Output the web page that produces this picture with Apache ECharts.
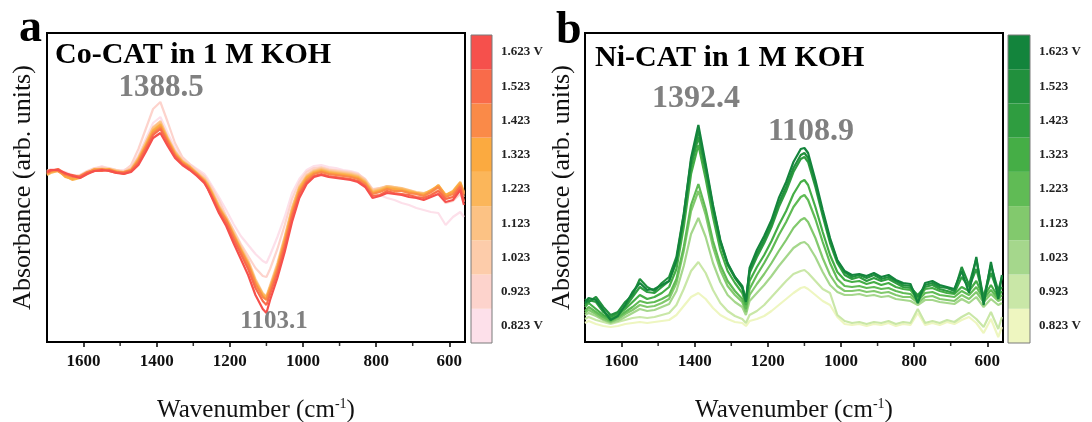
<!DOCTYPE html>
<html><head><meta charset="utf-8">
<script src="https://cdn.jsdelivr.net/npm/echarts@6/dist/echarts.min.js"></script>
<style>html,body{margin:0;padding:0;background:#fff}#c{width:1092px;height:422px}</style>
</head><body><div id="c"></div>
<script>
// ---- DATA ----
const wavenumbers = [1700,1690,1670,1650,1630,1610,1590,1570,1550,1530,1510,1490,1470,1450,1430,1410,1390,1370,1350,1330,1310,1290,1270,1260,1250,1230,1210,1190,1170,1150,1130,1110,1100,1090,1070,1050,1030,1010,990,970,950,930,910,890,870,850,830,810,790,770,750,730,710,690,670,650,630,610,590,570,560];
const voltageLabels = ['0.823 V','0.923','1.023','1.123','1.223','1.323','1.423','1.523','1.623 V'];
const majorTicks = [600,800,1000,1200,1400,1600];
const minorTicks = [700,900,1100,1300,1500];
const titleA = 'Co-CAT in 1 M KOH';
const titleB = 'Ni-CAT in 1 M KOH';
const peakLabelsA = ['1388.5','1103.1'];
const peakLabelsB = ['1392.4','1108.9'];

// Co-CAT (panel a), absorbance in arbitrary units, 0.823 V ... 1.623 V
const co0823 = [186,188,187,185,182,181,185,188,191,188,186,187,190,202,218,234,240,224,209,199,193,188,183,178,172,160,147,133,121,112,103,96,94,102,120,140,164,178,187,191,192,190,189,187,186,184,177,165,162,159,157,154,152,149,147,145,144,132,140,145,140];
const co0923 = [185,187,188,184,181,182,186,189,190,189,187,186,192,208,228,248,255,235,214,200,193,187,181,176,170,157,141,127,113,101,89,81,80,88,108,132,158,175,185,189,190,188,187,186,185,183,178,168,169,170,168,166,164,162,160,161,163,154,156,163,155];
const co1023 = [184,186,187,183,179,181,185,188,189,188,187,185,189,200,215,230,236,220,206,197,191,185,179,174,167,152,140,126,111,97,78,64,61,72,94,121,150,171,182,187,189,187,186,185,184,182,177,167,169,171,170,168,166,164,162,164,167,158,160,168,160];
const co1123 = [183,185,186,182,178,180,184,187,188,188,186,185,188,199,214,229,235,219,205,196,191,184,178,173,166,151,139,124,109,95,76,62,59,70,92,119,148,170,181,186,188,186,185,184,183,181,176,166,168,171,170,169,167,165,164,166,170,161,164,173,163];
const co1223 = [182,184,186,181,177,179,183,187,188,187,186,184,187,198,212,227,233,218,204,195,190,184,177,172,165,150,138,123,108,94,76,63,60,70,91,118,147,169,180,185,187,185,184,183,182,180,175,165,167,170,169,168,166,164,163,167,171,162,166,175,165];
const co1323 = [183,185,187,180,178,180,184,188,187,188,185,183,186,197,211,226,232,217,203,195,190,183,176,171,164,149,137,122,107,93,74,61,58,68,89,116,145,167,179,184,186,184,183,182,181,179,174,164,166,169,168,167,165,164,162,166,172,162,165,174,164];
const co1423 = [186,187,186,182,180,181,185,187,188,186,184,185,187,196,210,224,230,216,202,194,189,183,176,170,163,148,137,121,106,92,73,60,57,67,88,114,143,165,177,183,185,183,182,181,180,178,173,163,165,168,166,166,164,163,161,165,170,160,163,172,162];
const co1523 = [184,186,188,183,182,180,184,186,186,187,185,184,186,194,208,222,228,214,201,193,188,182,175,168,161,146,134,118,103,88,69,56,52,63,84,110,140,163,175,181,183,181,180,179,178,176,171,161,162,166,164,163,162,160,159,162,166,158,160,170,156];
const co1623 = [185,187,187,184,181,179,183,186,187,186,184,183,185,192,205,219,224,211,199,192,187,181,174,168,160,144,131,114,98,82,62,48,44,57,79,105,135,159,173,180,182,180,179,178,177,175,170,159,161,164,163,162,160,159,157,160,163,155,157,167,152];

// Ni-CAT (panel b)
const ni0823 = [34,36,33,31,30,31,33,34,35,34,35,36,37,42,51,60,64,58,49,42,38,35,34,31,36,38,41,46,52,58,64,69,70,68,62,56,52,40,33,32,33,31,33,32,34,31,33,32,44,32,34,32,35,33,37,40,34,24,38,20,30];
const ni0923 = [38,40,37,35,33,35,37,39,40,39,40,42,44,52,68,86,95,84,67,54,46,41,38,34,42,46,52,60,68,76,83,86,87,84,76,68,64,42,36,34,35,33,35,34,36,33,35,34,48,34,36,34,37,35,40,44,38,30,45,28,40];
const ni1023 = [42,44,41,37,34,36,40,44,48,46,47,50,53,66,91,123,139,120,94,75,62,55,50,42,56,64,72,81,91,100,109,114,115,112,100,85,72,65,62,62,63,61,62,60,61,58,57,56,52,57,57,55,54,53,58,54,60,50,58,52,54];
const ni1123 = [44,47,43,38,35,38,43,47,52,50,51,54,58,74,106,146,166,142,110,87,71,62,55,45,62,73,83,94,106,117,129,137,139,135,119,99,82,71,66,66,67,65,66,64,65,62,60,60,54,60,61,58,57,56,62,58,65,55,63,56,58];
const ni1223 = [46,50,45,40,36,40,45,50,56,54,55,58,62,78,110,152,173,148,116,92,76,66,58,48,68,82,94,107,122,135,150,160,162,157,138,115,94,78,71,70,71,69,70,68,69,66,64,63,56,64,65,62,61,60,66,62,70,58,67,58,62];
const ni1323 = [50,54,48,42,38,42,48,55,62,58,60,64,70,88,130,183,212,178,140,107,86,74,64,52,76,90,102,116,132,146,163,175,177,172,150,125,102,85,77,75,76,73,75,72,74,70,68,67,58,68,69,66,64,63,70,66,76,60,72,60,66];
const ni1423 = [52,57,55,45,40,44,50,60,70,65,64,70,76,95,138,190,220,186,147,114,92,79,69,56,84,100,114,130,150,166,185,198,200,195,170,141,114,94,82,78,80,76,79,76,78,74,70,69,62,70,72,68,66,64,80,70,88,60,84,64,70];
const ni1523 = [58,55,60,50,42,45,55,62,78,70,66,74,80,100,143,196,226,190,150,116,93,80,71,57,86,103,117,133,154,170,189,202,204,199,173,144,117,96,85,80,82,79,82,78,80,76,72,71,60,72,74,70,69,66,90,72,98,58,92,66,80];
const ni1623 = [54,59,57,47,37,41,52,65,74,67,68,72,76,97,142,199,232,193,152,117,94,80,70,55,89,107,121,137,159,175,195,208,209,204,177,147,119,97,86,82,83,81,84,80,82,77,74,73,54,74,76,72,70,68,86,64,100,52,95,58,82];

const coData = [co0823,co0923,co1023,co1123,co1223,co1323,co1423,co1523,co1623];
const niData = [ni0823,ni0923,ni1023,ni1123,ni1223,ni1323,ni1423,ni1523,ni1623];
const coColors = ['#fde0ea','#fdd3cc','#fdccaa','#fcc284','#fbb65a','#fbaa40','#fa8a48','#f96b4a','#f6504c'];
const niColors = ['#eef6c0','#c9e7a7','#a5d78c','#82c96d','#60bb55','#45ae46','#2f9d40','#21903d','#13843c'];

// ---- CHART ----
const FONT = '"Liberation Serif","Times New Roman","DejaVu Serif",serif';
const Y_MIN = 15, Y_MAX = 324;
const chart = echarts.init(document.getElementById('c'), null, {renderer:'canvas'});

const mainGrids = [
  {left:47, top:33, width:418, height:309},
  {left:585, top:33, width:418, height:309}
];
const barGrids = [
  {left:471, top:35, width:21, height:308},
  {left:1008, top:35, width:22, height:308}
];

const grids = [];
mainGrids.forEach(g => grids.push(Object.assign({show:true, borderColor:'#000', borderWidth:2, containLabel:false, outerBoundsMode:'none'}, g)));
barGrids.forEach(g => grids.push(Object.assign({show:false, containLabel:false, outerBoundsMode:'none'}, g)));

const xAxes = [], yAxes = [];
[0,1].forEach(gi => {
  xAxes.push({
    type:'value', gridIndex:gi, min:557, max:1700, inverse:true, position:'bottom',
    splitLine:{show:false},
    axisLine:{show:true, onZero:false, lineStyle:{color:'#000', width:2}},
    axisTick:{show:true, customValues:majorTicks, length:5, lineStyle:{color:'#000', width:1.5}},
    axisLabel:{show:true, customValues:majorTicks, margin:11, fontFamily:FONT, fontWeight:'bold', fontSize:17, color:'#111',
      formatter: v => String(v)},
    name:'Wavenumber (cm{s|-1})', nameLocation:'middle', nameGap:55,
    nameTextStyle:{fontFamily:FONT, fontSize:25, color:'#111',
      rich:{s:{fontFamily:FONT, fontSize:14, color:'#111', verticalAlign:'top', lineHeight:26}}}
  });
  yAxes.push({
    type:'value', gridIndex:gi, min:Y_MIN, max:Y_MAX,
    splitLine:{show:false}, axisTick:{show:false}, axisLabel:{show:false},
    axisLine:{show:true, lineStyle:{color:'#000', width:2}},
    name:'Absorbance (arb. units)', nameLocation:'middle', nameGap:gi===0?11:10, nameRotate:90,
    nameTextStyle:{fontFamily:FONT, fontSize:26, color:'#111'}
  });
});
[2,3].forEach(gi => {
  xAxes.push({type:'value', gridIndex:gi, min:0, max:1, show:false});
  yAxes.push({
    type:'category', gridIndex:gi, data:voltageLabels, position:'right',
    axisLine:{show:false},
    axisTick:{show:true, alignWithLabel:true, length:4, lineStyle:{color:'#999', width:1}},
    axisLabel:{margin:9, fontFamily:FONT, fontWeight:'bold', fontSize:13, color:'#222'},
    splitLine:{show:false}
  });
});

const series = [];
coData.forEach((arr, k) => series.push({
  type:'line', xAxisIndex:0, yAxisIndex:0, name:voltageLabels[k], showSymbol:false, symbol:'none',
  lineStyle:{color:coColors[k], width:2.2}, itemStyle:{color:coColors[k]}, z:2+k,
  data: wavenumbers.map((w,i) => [w, arr[i]])
}));
niData.forEach((arr, k) => series.push({
  type:'line', xAxisIndex:1, yAxisIndex:1, name:'ni'+voltageLabels[k], showSymbol:false, symbol:'none',
  lineStyle:{color:niColors[k], width:2.2}, itemStyle:{color:niColors[k]}, z:2+k,
  data: wavenumbers.map((w,i) => [w, arr[i]])
}));
// minor ticks, placed on the bottom edge through the axis scale
[0,1].forEach(gi => series.push({
  type:'scatter', xAxisIndex:gi, yAxisIndex:gi, silent:true, clip:false, z:20,
  symbol:'rect', symbolSize:[1.5,4], symbolOffset:[0,2],
  itemStyle:{color:'#000'},
  data: minorTicks.map(v => [v, Y_MIN])
}));
series.push({type:'bar', xAxisIndex:2, yAxisIndex:2, barCategoryGap:'0%', silent:true,
  data: coColors.map(c => ({value:1, itemStyle:{color:c}}))});
series.push({type:'bar', xAxisIndex:3, yAxisIndex:3, barCategoryGap:'0%', silent:true,
  data: niColors.map(c => ({value:1, itemStyle:{color:c}}))});

const graphics = [
  {type:'text', x:19, y:29, style:{text:'a', font:'bold 46px '+FONT, fill:'#000', verticalAlign:'middle'}},
  {type:'text', x:556, y:31, style:{text:'b', font:'bold 46px '+FONT, fill:'#000', verticalAlign:'middle'}},
  {type:'text', x:55, y:55, style:{text:titleA, font:'bold 30px '+FONT, fill:'#000', verticalAlign:'middle'}},
  {type:'text', x:595, y:58, style:{text:titleB, font:'bold 30px '+FONT, fill:'#000', verticalAlign:'middle'}},
  {type:'text', x:161, y:88, style:{text:peakLabelsA[0], font:'bold 31px '+FONT, fill:'#808080', align:'center', verticalAlign:'middle'}, z:50},
  {type:'text', x:274, y:322, style:{text:peakLabelsA[1], font:'bold 25px '+FONT, fill:'#808080', align:'center', verticalAlign:'middle'}, z:50},
  {type:'text', x:696, y:99, style:{text:peakLabelsB[0], font:'bold 32px '+FONT, fill:'#808080', align:'center', verticalAlign:'middle'}, z:50},
  {type:'text', x:811, y:132, style:{text:peakLabelsB[1], font:'bold 32px '+FONT, fill:'#808080', align:'center', verticalAlign:'middle'}, z:50}
];
barGrids.forEach(g => graphics.push({type:'rect', shape:{x:g.left, y:g.top, width:g.width, height:g.height},
  style:{fill:'none', stroke:'#7a7a7a', lineWidth:1}, z:100}));

chart.setOption({
  animation:false,
  backgroundColor:'#fff',
  grid:grids, xAxis:xAxes, yAxis:yAxes, series:series, graphic:graphics
});
</script></body></html>
